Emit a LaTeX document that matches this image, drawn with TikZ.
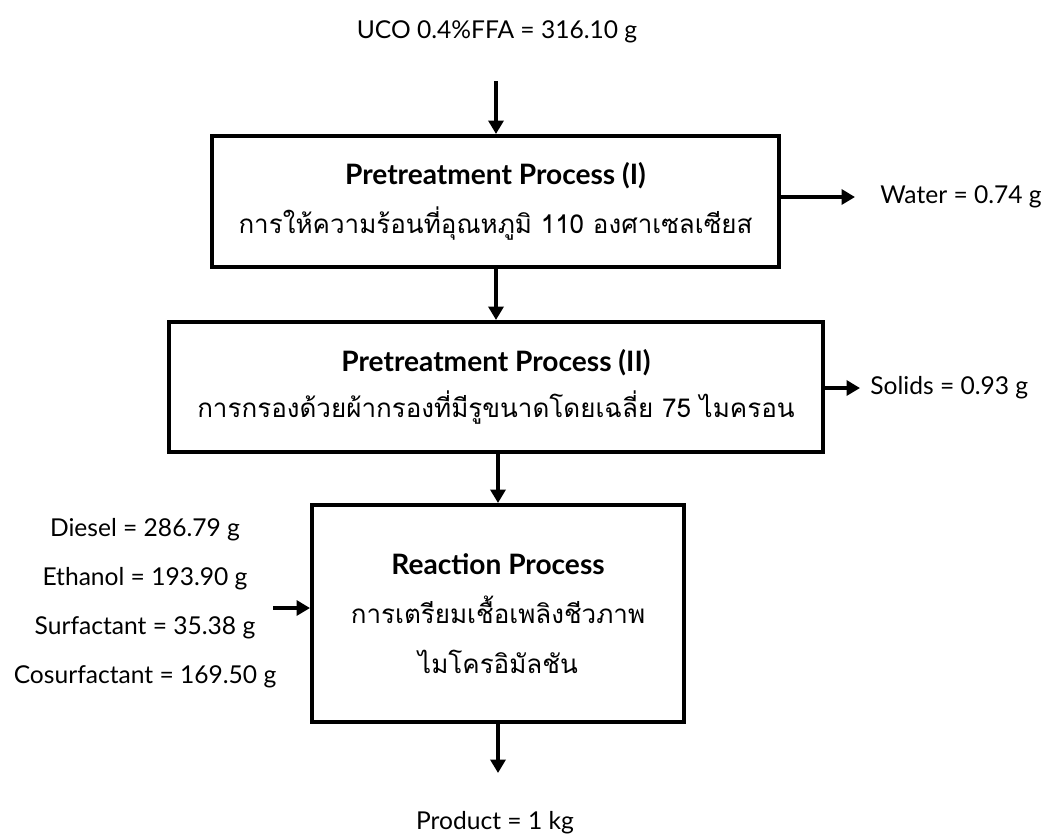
\documentclass[tikz,border=0pt]{standalone}
\usepackage{fontspec}
\setmainfont{Lato}
\newfontfamily\thaifont[Script=Thai]{Loma}
\usetikzlibrary{arrows.meta}

% Thai description line inside a process box
\newcommand{\thline}[1]{{\thaifont\fontsize{14.8}{28}\selectfont #1}}

\tikzset{
    procbox/.style={draw, line width=2.3pt, align=center, inner sep=0pt,
        font=\fontsize{16}{28}\selectfont},
    lbl/.style={inner sep=0pt, font=\fontsize{14}{16}\selectfont},
    flow/.style={line width=2.2pt, -{Triangle[length=0.27cm,width=0.3cm]}}
}

\begin{document}
\begin{tikzpicture}[x=0.02cm, y=-0.02cm]
    % Page frame (pixel grid, y pointing down)
    \useasboundingbox (0,0) rectangle (1047,836);

    % Feed
    \node[lbl] (uco) at (497,32) {UCO 0.4\%FFA = 316.10 g};
    \coordinate (feed) at (496,81);

    % Process steps
    \node[procbox, minimum width=11.34cm, minimum height=2.62cm] (pre1) at (495.5,201.5)
        {\textbf{Pretreatment Process (I)}\\\thline{การให้ความร้อนที่อุณหภูมิ 110 องศาเซลเซียส}};
    \node[procbox, minimum width=13.08cm, minimum height=2.6cm] (pre2) at (496,387)
        {\textbf{Pretreatment Process (II)}\\[-2pt]\thline{การกรองด้วยผ้ากรองที่มีรูขนาดโดยเฉลี่ย 75 ไมครอน}};
    \node[procbox, minimum width=7.44cm, minimum height=4.34cm] (react) at (498,613.5)
        {\textbf{Reaction Process}\\\thline{การเตรียมเชื้อเพลิงชีวภาพ}\\\thline{ไมโครอิมัลชัน}};

    % Side streams
    \node[lbl, anchor=west] (water) at (880,197) {Water = 0.74 g};
    \node[lbl, anchor=west] (solids) at (870,388) {Solids = 0.93 g};

    % Reaction inputs
    \node[lbl] (diesel) at (145,530) {Diesel = 286.79 g};
    \node[lbl] (ethanol) at (145,579) {Ethanol = 193.90 g};
    \node[lbl] (surf) at (145,628) {Surfactant = 35.38 g};
    \node[lbl] (cosurf) at (145,677) {Cosurfactant = 169.50 g};
    \coordinate (mixin) at (273,608);

    % Product
    \node[lbl] (product) at (495,823) {Product = 1 kg};
    \coordinate (out) at (498,773);

    % Arrows
    \draw[flow] (feed) -- (feed |- pre1.north);
    \draw[flow] (pre1.south -| feed) -- (feed |- pre2.north);
    \draw[flow] (pre2.south -| react.north) -- (react.north);
    \draw[flow] (react.south) -- (out);
    \draw[flow] (pre1.east |- water.west) -- ([xshift=-0.5cm]water.west);
    \draw[flow] (pre2.east |- solids.west) -- ([xshift=-0.2cm]solids.west);
    \draw[flow] (mixin) -- (mixin -| react.west);
\end{tikzpicture}
\end{document}
